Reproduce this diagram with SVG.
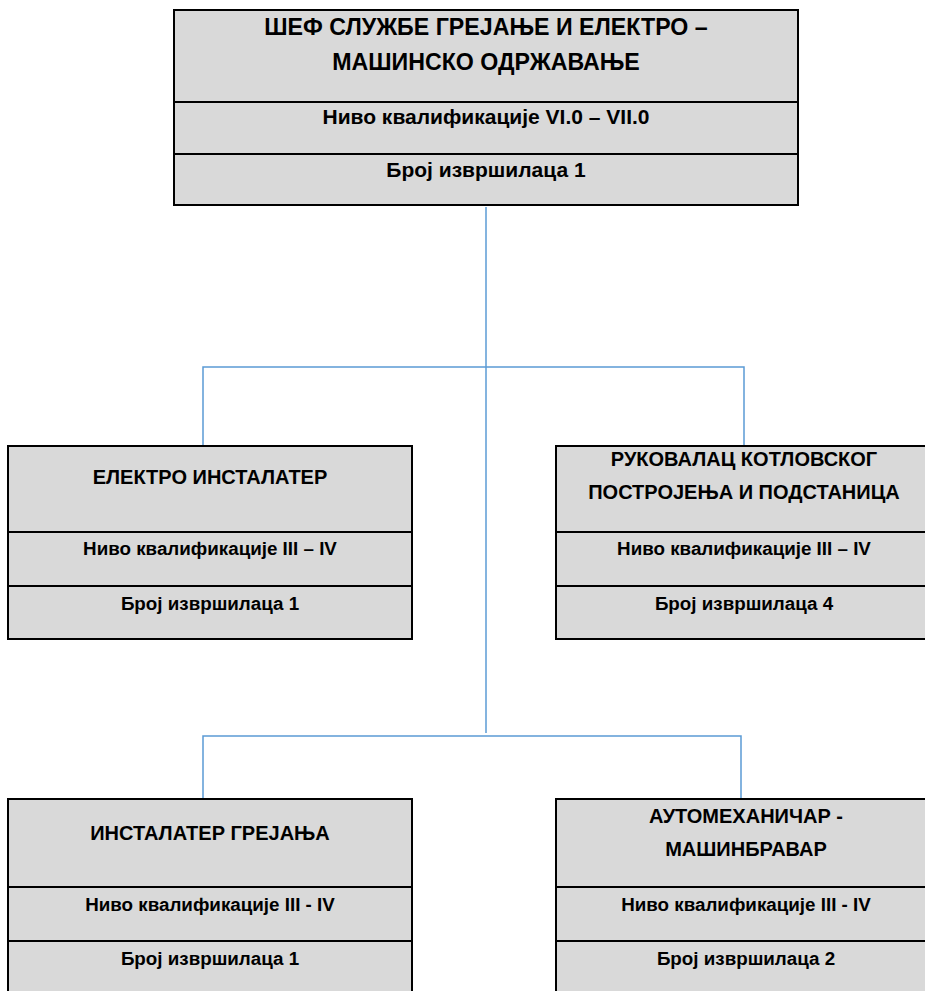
<svg xmlns="http://www.w3.org/2000/svg" width="925" height="991" viewBox="0 0 925 991">
<style>
.box{fill:#d9d9d9;stroke:#000;stroke-width:2}
.div{stroke:#000;stroke-width:2}
.conn{fill:none;stroke:#5b9bd5;stroke-width:1.5}
text{font-family:"Liberation Sans",Arial,sans-serif;font-weight:bold;fill:#000;text-anchor:middle}
.t0{font-size:23.2px}
.s0{font-size:21px}
.t{font-size:20px}
.s{font-size:18.8px}
</style>
<rect width="925" height="991" fill="#fff"/>
<g id="connectors">
<path class="conn" d="M486 207V733"/>
<path class="conn" d="M203 446V367H744V446"/>
<path class="conn" d="M203 799V736H741V799"/>
</g>
<g id="chief">
<rect class="box" x="174" y="10" width="624" height="195"/>
<line class="div" x1="174" y1="102" x2="798" y2="102"/>
<line class="div" x1="174" y1="154" x2="798" y2="154"/>
<text class="t0" x="486" y="35">ШЕФ СЛУЖБЕ ГРЕЈАЊЕ И ЕЛЕКТРО –</text>
<text class="t0" x="486" y="70">МАШИНСКО ОДРЖАВАЊЕ</text>
<text class="s0" x="486" y="124">Ниво квалификације VI.0 – VII.0</text>
<text class="s0" x="486" y="177">Број извршилаца 1</text>
</g>
<g id="elektro">
<rect class="box" x="8" y="446" width="404" height="193"/>
<line class="div" x1="8" y1="532" x2="412" y2="532"/>
<line class="div" x1="8" y1="586" x2="412" y2="586"/>
<text class="t" x="210" y="484">ЕЛЕКТРО ИНСТАЛАТЕР</text>
<text class="s" x="210" y="555">Ниво квалификације III – IV</text>
<text class="s" x="210" y="610">Број извршилаца 1</text>
</g>
<g id="rukovalac">
<rect class="box" x="556" y="446" width="380" height="193"/>
<line class="div" x1="556" y1="532" x2="936" y2="532"/>
<line class="div" x1="556" y1="586" x2="936" y2="586"/>
<text class="t" x="744" y="466">РУКОВАЛАЦ КОТЛОВСКОГ</text>
<text class="t" x="744" y="499">ПОСТРОЈЕЊА И ПОДСТАНИЦА</text>
<text class="s" x="744" y="555">Ниво квалификације III – IV</text>
<text class="s" x="744" y="610">Број извршилаца 4</text>
</g>
<g id="instalater">
<rect class="box" x="8" y="799" width="404" height="200"/>
<line class="div" x1="8" y1="887" x2="412" y2="887"/>
<line class="div" x1="8" y1="941" x2="412" y2="941"/>
<text class="t" x="210" y="840">ИНСТАЛАТЕР ГРЕЈАЊА</text>
<text class="s" x="210" y="911">Ниво квалификације III - IV</text>
<text class="s" x="210" y="965">Број извршилаца 1</text>
</g>
<g id="automehanicar">
<rect class="box" x="556" y="799" width="380" height="200"/>
<line class="div" x1="556" y1="887" x2="936" y2="887"/>
<line class="div" x1="556" y1="941" x2="936" y2="941"/>
<text class="t" x="746" y="823">АУТОМЕХАНИЧАР -</text>
<text class="t" x="746" y="856">МАШИНБРАВАР</text>
<text class="s" x="746" y="911">Ниво квалификације III - IV</text>
<text class="s" x="746" y="965">Број извршилаца 2</text>
</g>
</svg>
